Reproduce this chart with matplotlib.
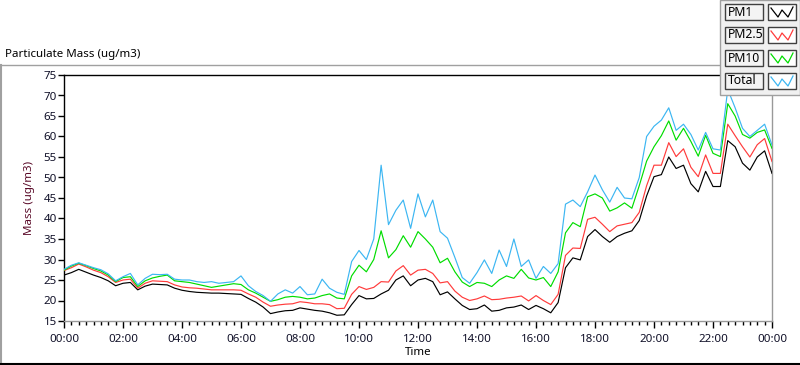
import matplotlib
matplotlib.use("Agg")
import matplotlib.pyplot as plt
from matplotlib.patches import Rectangle
from matplotlib.lines import Line2D
import numpy as np

# readings every 15 minutes, 00:00 -> 24:00
hours = np.arange(0, 24.01, 0.25)

pm1 = [26.2, 26.8, 27.6, 26.9, 26.2, 25.6, 24.8, 23.6, 24.2, 24.4, 22.6, 23.5,
       24.0, 23.9, 23.8, 23.0, 22.5, 22.2, 22.0, 21.9, 21.8, 21.8, 21.7, 21.6,
       21.5, 20.5, 19.6, 18.4, 16.8, 17.2, 17.5, 17.6, 18.2, 17.9, 17.6, 17.4,
       17.0, 16.4, 16.5, 19.0, 21.2, 20.4, 20.5, 21.6, 22.5, 25.0, 26.0, 23.6,
       25.0, 25.4, 24.6, 21.4, 22.1, 20.4, 18.8, 17.8, 18.0, 18.9, 17.4, 17.6,
       18.2, 18.4, 18.9, 17.8, 18.8, 18.0, 17.0, 19.5, 28.0, 30.4, 29.9, 35.6,
       37.3, 35.6, 34.2, 35.6, 36.4, 37.0, 39.5, 45.5, 50.2, 50.7, 55.0, 52.2,
       53.0, 48.5, 46.5, 51.5, 47.8, 47.8, 59.0, 57.5, 53.5, 51.8, 55.0, 56.5,
       51.0]

pm25 = [27.3, 28.0, 28.9, 28.2, 27.4, 26.8, 25.8, 24.4, 25.0, 25.2, 23.0, 24.2,
        24.8, 24.7, 24.6, 23.8, 23.3, 23.1, 23.0, 22.8, 22.6, 22.6, 22.6, 22.6,
        22.5, 21.6, 20.8, 19.6, 18.6, 18.9, 19.1, 19.2, 19.7, 19.5, 19.2, 19.2,
        19.0, 18.0, 18.1, 21.5, 23.4, 22.7, 23.2, 24.6, 24.5, 27.2, 28.5, 26.2,
        27.4, 27.6, 26.6, 24.3, 24.6, 22.3, 20.8, 20.0, 20.4, 21.1, 20.2, 20.3,
        20.6, 20.8, 21.1, 19.9, 21.2, 20.0, 19.0, 21.5, 31.0, 32.8, 32.7, 39.8,
        40.3, 38.6, 36.8, 38.2, 38.6, 39.0, 41.5, 48.0, 53.0, 53.0, 58.5, 55.1,
        57.0, 52.5, 50.2, 55.5, 51.0, 51.0, 63.0, 60.2, 57.5, 55.0, 58.0, 59.5,
        53.9]

pm10 = [27.4, 28.4, 29.1, 28.5, 27.8, 27.2, 26.2, 24.6, 25.6, 25.8, 23.4, 24.8,
        25.5, 25.9, 26.2, 24.8, 24.6, 24.4, 24.0, 23.6, 23.2, 23.5, 23.8, 24.1,
        23.9, 22.6, 21.8, 20.8, 19.8, 20.2, 20.8, 21.0, 20.8, 20.4, 20.6, 21.2,
        21.6, 20.6, 20.4, 26.0, 28.6, 27.0, 30.0, 37.0, 30.4, 32.4, 35.8, 33.0,
        36.8, 35.0, 33.0, 29.2, 30.3, 27.0, 24.5, 23.4, 24.4, 24.2, 23.4, 25.0,
        26.0, 25.4, 27.6, 25.5, 25.0, 25.6, 23.4, 27.0, 36.5, 39.0, 38.0, 45.3,
        46.0, 45.0, 41.8, 42.6, 43.8, 42.5, 48.0, 54.0, 57.5, 60.2, 63.8, 59.1,
        62.0, 58.8, 55.2, 60.3, 55.9, 55.1, 68.0, 65.0, 60.5, 59.6, 61.0, 61.6,
        57.1]

total = [27.6, 28.6, 29.2, 28.6, 28.0, 27.5, 26.5, 24.8, 25.8, 26.6, 23.8, 25.4,
         26.4, 26.3, 26.4, 25.2, 25.0, 25.0, 24.6, 24.4, 24.6, 24.2, 24.4, 24.6,
         26.0, 23.6, 22.2, 21.2, 19.8, 21.6, 22.6, 21.8, 23.4, 21.4, 21.6, 25.2,
         23.0, 22.0, 21.5, 29.5, 32.2, 30.0, 35.0, 53.0, 38.5, 42.0, 44.5, 37.6,
         46.0, 40.4, 44.5, 36.8, 35.2, 30.5, 25.6, 24.2, 26.8, 29.9, 26.6, 32.3,
         28.3, 35.0, 28.3, 29.9, 25.4, 28.3, 26.6, 29.0, 43.5, 44.5, 42.9, 46.5,
         50.6, 47.0, 44.0, 47.6, 45.0, 44.8, 50.0, 60.0, 62.5, 64.0, 67.0, 61.5,
         63.0, 60.5, 56.7, 61.0, 57.0, 56.7, 71.5, 67.0, 62.0, 60.0, 61.5, 63.0,
         57.9]

series_names = ["PM1", "PM2.5", "PM10", "Total"]
series_colors = ["#000000", "#ff3b3b", "#00dd00", "#3cb6f2"]

plt.rcParams['font.family'] = ['Noto Sans', 'DejaVu Sans']

W, H = 800, 365
fig = plt.figure(figsize=(W / 100, H / 100), dpi=100)

def fx(px):
    return px / W

def fy(py):
    return 1 - py / H

ax = fig.add_axes([fx(64), fy(321), fx(772) - fx(64), fy(75) - fy(321)])

for vals, col in zip([pm1, pm25, pm10, total], series_colors):
    ax.plot(hours, vals, color=col, lw=0.85, zorder=3)

ax.set_xlim(0, 24)
ax.set_ylim(15, 75)
ax.set_yticks(np.arange(15, 76, 5))
ax.set_xticks(np.arange(0, 25, 2))
ax.set_xticks(np.arange(0, 24.01, 0.25), minor=True)
ax.set_xticklabels(["%02d:00" % (h % 24) for h in range(0, 25, 2)])

ax.tick_params(axis='y', direction='out', length=4, width=1, pad=1,
               labelsize=8.3, labelcolor='#101028', color='#000000')
ax.tick_params(axis='x', which='major', direction='out', length=5, width=1,
               pad=4, labelsize=8.3, labelcolor='#101028', color='#000000')
ax.tick_params(axis='x', which='minor', direction='out', length=3, width=1,
               color='#000000')

ax.spines['left'].set_color('#000000')
ax.spines['top'].set_color('#000000')
ax.spines['right'].set_color('#999999')
ax.spines['bottom'].set_color('#999999')
for s in ax.spines.values():
    s.set_linewidth(1)

ax.set_xlabel("Time", fontsize=8.3, color='#000000', labelpad=2)
ax.set_ylabel("Mass (ug/m3)", fontsize=8.3, color='#5a0a28', labelpad=6)

# title and frame lines
fig.text(fx(5), fy(55), "Particulate Mass (ug/m3)", fontsize=8.3, ha='left', va='center')
fig.add_artist(Line2D([0, fx(721)], [fy(65), fy(65)], color='#a0a0a0', lw=1))
fig.add_artist(Line2D([fx(1), fx(1)], [fy(65), 0], color='#a0a0a0', lw=1.5))
fig.add_artist(Line2D([0, 1], [fy(364), fy(364)], color='#000000', lw=1.5))

# legend panel
fig.add_artist(Rectangle((fx(720), fy(95)), 1 - fx(720), fy(0) - fy(95),
                         facecolor='#f0f0f0', edgecolor='#a0a0a0', lw=1,
                         transform=fig.transFigure, zorder=5))
row_tops = [4, 27, 50, 73]
for name, col, top in zip(series_names, series_colors, row_tops):
    fig.add_artist(Rectangle((fx(725), fy(top + 16)), fx(763) - fx(725), fy(top) - fy(top + 16),
                             facecolor='#f4f4f4', edgecolor='#404040', lw=1,
                             transform=fig.transFigure, zorder=6))
    fig.text(fx(728), fy(top + 8), name, fontsize=8.8, ha='left', va='center', zorder=7)
    fig.add_artist(Rectangle((fx(768), fy(top + 16)), fx(796) - fx(768), fy(top) - fy(top + 16),
                             facecolor='#ffffff', edgecolor='#404040', lw=1,
                             transform=fig.transFigure, zorder=6))
    zx = [771, 778, 782, 788, 793]
    zy = [top + 4, top + 13, top + 6, top + 13, top + 3]
    fig.add_artist(Line2D([fx(v) for v in zx], [fy(v) for v in zy], color=col, lw=0.9,
                          zorder=7))

fig.savefig("out.png", dpi=100, facecolor='white')
